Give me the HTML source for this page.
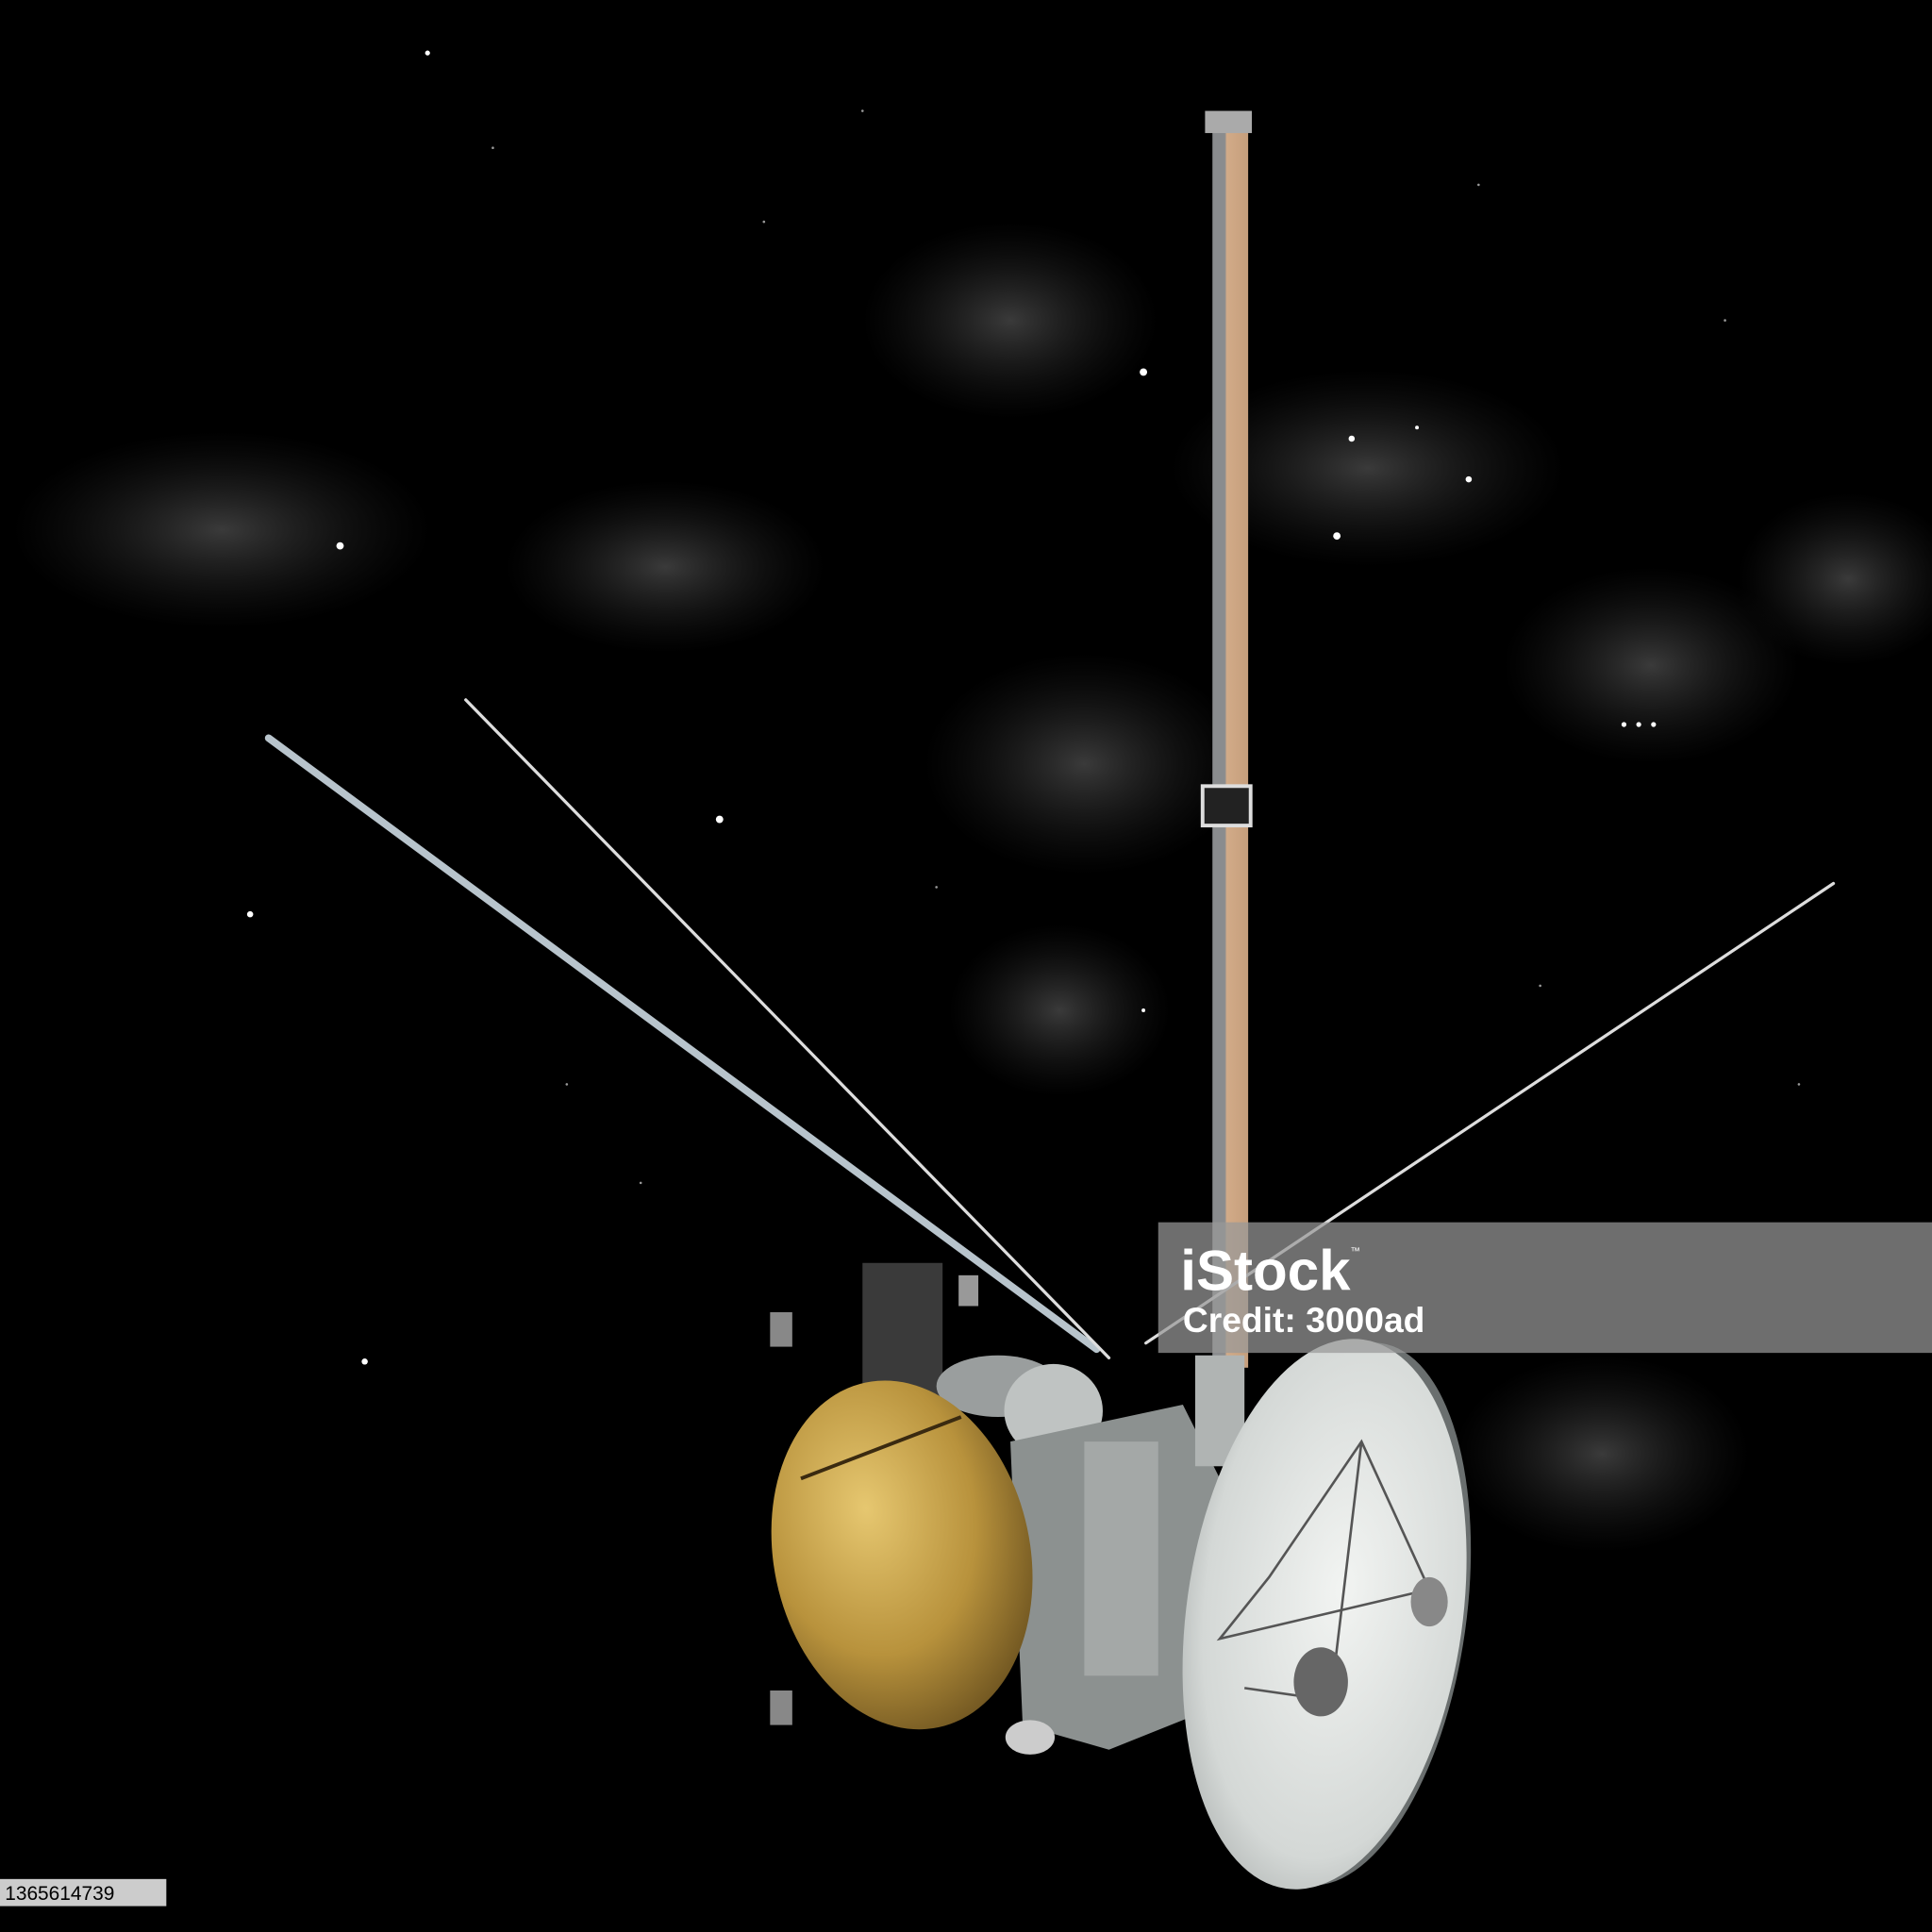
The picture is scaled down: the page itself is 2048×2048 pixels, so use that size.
<!DOCTYPE html>
<html><head><meta charset="utf-8"><style>
html,body{margin:0;padding:0;background:#000;}
svg{display:block;width:2048px;height:2048px;}
</style></head><body>
<svg viewBox="0 0 1568 1568" xmlns="http://www.w3.org/2000/svg">
<defs>
<radialGradient id="neb" cx="50%" cy="50%" r="50%"><stop offset="0" stop-color="#6a6a6a" stop-opacity="0.55"/><stop offset="1" stop-color="#333" stop-opacity="0"/></radialGradient>
<radialGradient id="gold" cx="40%" cy="35%" r="70%"><stop offset="0" stop-color="#e6c770"/><stop offset="0.6" stop-color="#b8923c"/><stop offset="1" stop-color="#6e5420"/></radialGradient>
<radialGradient id="whiteDish" cx="55%" cy="45%" r="70%"><stop offset="0" stop-color="#f2f4f2"/><stop offset="0.7" stop-color="#d4d8d6"/><stop offset="1" stop-color="#9ea3a2"/></radialGradient>
<linearGradient id="boom" x1="0" x2="1"><stop offset="0" stop-color="#8a8c8e"/><stop offset="0.35" stop-color="#8a8c8e"/><stop offset="0.4" stop-color="#d2ab88"/><stop offset="1" stop-color="#c59e7c"/></linearGradient>
</defs>
<rect width="1568" height="1568" fill="#000"/>
<g>
<ellipse cx="180" cy="430" rx="170" ry="80" fill="url(#neb)"/>
<ellipse cx="540" cy="460" rx="130" ry="70" fill="url(#neb)"/>
<ellipse cx="820" cy="260" rx="120" ry="80" fill="url(#neb)"/>
<ellipse cx="1110" cy="380" rx="160" ry="80" fill="url(#neb)"/>
<ellipse cx="880" cy="620" rx="130" ry="90" fill="url(#neb)"/>
<ellipse cx="1340" cy="540" rx="120" ry="80" fill="url(#neb)"/>
<ellipse cx="1500" cy="470" rx="90" ry="70" fill="url(#neb)"/>
<ellipse cx="860" cy="820" rx="90" ry="70" fill="url(#neb)"/>
<ellipse cx="1300" cy="1180" rx="120" ry="80" fill="url(#neb)"/>
</g>
<g fill="#fff">
<circle cx="276" cy="443" r="3"/><circle cx="584" cy="665" r="3"/><circle cx="203" cy="742" r="2.5"/>
<circle cx="296" cy="1105" r="2.5"/><circle cx="928" cy="302" r="3"/><circle cx="1097" cy="356" r="2.5"/>
<circle cx="1085" cy="435" r="3"/><circle cx="1192" cy="389" r="2.5"/><circle cx="1318" cy="588" r="2"/>
<circle cx="1330" cy="588" r="2"/><circle cx="1342" cy="588" r="2"/><circle cx="347" cy="43" r="2"/>
<circle cx="1150" cy="347" r="1.5"/><circle cx="928" cy="820" r="1.5"/>
<g fill="#999"><circle cx="400" cy="120" r="1"/><circle cx="620" cy="180" r="1"/><circle cx="700" cy="90" r="1"/><circle cx="1200" cy="150" r="1"/><circle cx="1400" cy="260" r="1"/><circle cx="460" cy="880" r="1"/><circle cx="520" cy="960" r="1"/><circle cx="1250" cy="800" r="1"/><circle cx="1460" cy="880" r="1"/><circle cx="760" cy="720" r="1"/></g>
</g>
<g>
<rect x="984" y="100" width="29" height="1010" fill="url(#boom)"/>
<rect x="978" y="90" width="38" height="18" fill="#aaa"/>
<rect x="976" y="638" width="39" height="32" fill="#222" stroke="#ddd" stroke-width="3"/>
</g>
<g stroke-linecap="round">
<line x1="218" y1="599" x2="890" y2="1095" stroke="#b8c4cc" stroke-width="6"/>
<line x1="378" y1="568" x2="900" y2="1102" stroke="#ddd" stroke-width="2.5"/>
<line x1="1488" y1="717" x2="930" y2="1090" stroke="#ddd" stroke-width="2.5"/>
</g>
<g>
<rect x="700" y="1025" width="65" height="120" fill="#3a3a3a"/>
<ellipse cx="810" cy="1125" rx="50" ry="25" fill="#9a9e9e"/>
<ellipse cx="855" cy="1145" rx="40" ry="38" fill="#bfc3c2"/>
<path d="M820 1170 L960 1140 L990 1200 L975 1390 L900 1420 L830 1400 Z" fill="#8c9190"/>
<rect x="880" y="1170" width="60" height="190" fill="#a4a8a7"/>
<rect x="970" y="1100" width="40" height="90" fill="#b0b4b3"/>
<ellipse cx="836" cy="1410" rx="20" ry="14" fill="#ccc"/>
<rect x="625" y="1065" width="18" height="28" fill="#888"/>
<rect x="625" y="1372" width="18" height="28" fill="#888"/>
<rect x="778" y="1035" width="16" height="25" fill="#999"/>
</g>
<g>
<ellipse cx="732" cy="1262" rx="104" ry="143" transform="rotate(-12 732 1262)" fill="url(#gold)"/>
<path d="M650 1200 L780 1150" stroke="#3a2a10" stroke-width="3"/>
</g>
<g>
<ellipse cx="1090" cy="1310" rx="100" ry="222" transform="rotate(8 1090 1310)" fill="#6a6f6f"/>
<ellipse cx="1075" cy="1310" rx="112" ry="225" transform="rotate(8 1075 1310)" fill="url(#whiteDish)"/>
<g stroke="#555" stroke-width="2" fill="none">
<path d="M1030 1280 L1105 1170 L1160 1290 L990 1330 Z"/>
<path d="M1105 1170 L1080 1380 L1010 1370"/>
</g>
<ellipse cx="1072" cy="1365" rx="22" ry="28" fill="#666"/>
<ellipse cx="1160" cy="1300" rx="15" ry="20" fill="#888"/>
</g>
<g>
<rect x="940" y="992" width="628" height="106" fill="#999" fill-opacity="0.72"/>
<text x="958" y="1047" font-family="Liberation Sans, sans-serif" font-weight="bold" font-size="46" fill="#fff">iStock</text>
<text x="1096" y="1018" font-family="Liberation Sans, sans-serif" font-size="8" fill="#fff">™</text>
<text x="960" y="1081" font-family="Liberation Sans, sans-serif" font-weight="bold" font-size="28.5" fill="#fff">Credit: 3000ad</text>
</g>
<g>
<rect x="0" y="1525" width="135" height="22" fill="#ccc"/>
<text x="4" y="1542" font-family="Liberation Sans, sans-serif" font-size="16" fill="#000">1365614739</text>
</g>
</svg>
</body></html>
